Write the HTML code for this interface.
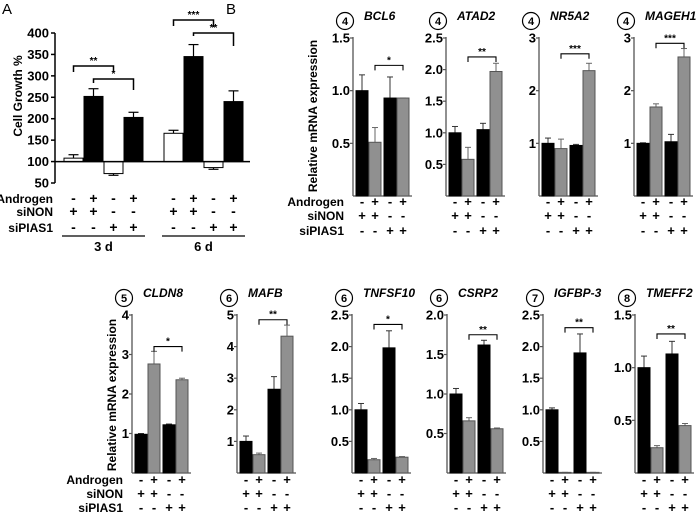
<!DOCTYPE html>
<html><head><meta charset="utf-8"><style>
body{margin:0;background:#fff}
svg{display:block;font-family:"Liberation Sans",Arial,sans-serif;font-weight:bold}
</style></head><body>
<svg id="fig" width="697" height="515" viewBox="0 0 697 515" xmlns="http://www.w3.org/2000/svg">
<text x="2" y="14" font-size="15" font-weight="normal">A</text>
<text x="226" y="14" font-size="15" font-weight="normal">B</text>
<text transform="translate(22,96) rotate(-90)" text-anchor="middle" font-size="12">Cell Growth %</text>
<text transform="translate(317,116) rotate(-90)" text-anchor="middle" font-size="12">Relative mRNA expression</text>
<text transform="translate(116,395) rotate(-90)" text-anchor="middle" font-size="12">Relative mRNA expression</text>
</svg>
<script>
// ---------- Panel A data ----------
const aGroups = ["3 d", "6 d"];
const aValues = [[108, 252, 72, 203], [166, 345, 86, 240]];
const aErrors = [[116, 270, 68, 215], [173, 373, 82, 265]];
const aTicks = [50, 100, 150, 200, 250, 300, 350, 400];
const aAndrogen = ["-", "+", "-", "+"];
const aSiNON = ["+", "+", "-", "-"];
const aSiPIAS1 = ["-", "-", "+", "+"];
// ---------- Panel B data ----------
const bGenes = ["BCL6","ATAD2","NR5A2","MAGEH1","CLDN8","MAFB","TNFSF10","CSRP2","IGFBP-3","TMEFF2"];
const bNumbers = ["4","4","4","4","5","6","6","6","7","8"];
const bMax = [1.5,2.5,3,3,4,5,2.5,2.0,2.5,1.5];
const bTicks = [[0.5,1.0,1.5],[0.5,1.0,1.5,2.0,2.5],[1,2,3],[1,2,3],[1,2,3,4],[1,2,3,4,5],[0.5,1.0,1.5,2.0,2.5],[0.5,1.0,1.5,2.0],[0.5,1.0,1.5,2.0,2.5],[0.5,1.0,1.5]];
const bTickLabels = [["0.5","1.0","1.5"],["0.5","1.0","1.5","2.0","2.5"],["1","2","3"],["1","2","3"],["1","2","3","4"],["1","2","3","4","5"],["0.5","1.0","1.5","2.0","2.5"],["0.5","1.0","1.5","2.0"],["0.5","1.0","1.5","2.0","2.5"],["0.5","1.0","1.5"]];
const bValues = [[1.0,0.51,0.93,0.93],[1.0,0.58,1.05,1.97],[1.0,0.9,0.96,2.38],[1.0,1.69,1.03,2.64],[0.98,2.76,1.22,2.36],[1.0,0.58,2.65,4.33],[1.0,0.21,1.98,0.25],[1.0,0.66,1.62,0.56],[1.0,0.01,1.9,0.01],[1.0,0.24,1.13,0.45]];
const bErrors = [[1.15,0.65,1.13,0.93],[1.1,0.77,1.15,2.1],[1.1,1.08,0.98,2.52],[1.01,1.75,1.17,2.8],[1.0,3.08,1.24,2.4],[1.17,0.63,3.05,4.68],[1.1,0.23,2.25,0.26],[1.07,0.7,1.68,0.57],[1.03,0.01,2.2,0.01],[1.11,0.26,1.25,0.47]];
const bSig = ["*","**","***","***","*","**","*","**","**","**"];
const bSigLevel = [1.24,2.2,2.7,2.9,3.2,4.85,2.35,1.75,2.3,1.32];

const svg = document.getElementById('fig');
const NS = "http://www.w3.org/2000/svg";
function mk(tag, attrs, parent){const e=document.createElementNS(NS,tag);for(const k in attrs)e.setAttribute(k,attrs[k]);(parent||svg).appendChild(e);return e;}
function txt(x,y,s,size,anchor,parent,extra){const t=mk('text',Object.assign({x:x,y:y,'font-size':size,'text-anchor':anchor||'start'},extra||{}),parent);t.textContent=s;return t;}

// ---------- Panel A ----------
const aAxisX=55, aTop=33, aBot=183, aMin=50, aMaxV=400;
const ay = v => aBot - (v-aMin)/(aMaxV-aMin)*(aBot-aTop);
const aStarts=[64,164], aPitch=20, aW=19;
const ax = (g,i) => aStarts[g] + i*aPitch;
const gA = mk('g',{});


mk('line',{x1:aAxisX,y1:aTop,x2:aAxisX,y2:aBot,stroke:'#000','stroke-width':1.5},gA);
aTicks.forEach(t=>{
  mk('line',{x1:aAxisX-4,y1:ay(t),x2:aAxisX,y2:ay(t),stroke:'#000','stroke-width':1.5},gA);
  const l=txt(aAxisX-6,ay(t)+4.5,String(t),13,'end',gA);
  
  
});
aGroups.forEach((g,gi)=>{
  aValues[gi].forEach((v,i)=>{
    const x=ax(gi,i), top=Math.min(ay(v),ay(100)), h=Math.abs(ay(v)-ay(100));
    const fill = (i%2===1)?'#000':'#fff';
    const e=ay(aErrors[gi][i]);
    mk('line',{x1:x+aW/2,y1:ay(v),x2:x+aW/2,y2:e,stroke:'#000','stroke-width':1.2},gA);
    mk('line',{x1:x+aW/2-5,y1:e,x2:x+aW/2+5,y2:e,stroke:'#000','stroke-width':1.2},gA);
    const r=mk('rect',{x:x,y:top,width:aW,height:h,fill:fill,stroke:'#000','stroke-width':1},gA);
    
    
  });
  const cx = ax(gi,0)+aPitch*1.5+aW/2;
  const ctrl=[aAndrogen,aSiNON,aSiPIAS1];
  ctrl.forEach((row,ri)=>row.forEach((s,i)=>{
    txt(ax(gi,i)+aW/2,[203,216,232][ri],s,14,'middle',gA);
  }));
  mk('line',{x1:ax(gi,0)-2,y1:236,x2:ax(gi,3)+aW+2,y2:236,stroke:'#000','stroke-width':1.3},gA);
  const gl=txt(cx,251,g,13,'middle',gA);
  
  
});
mk('line',{x1:aAxisX,y1:ay(100),x2:250,y2:ay(100),stroke:'#000','stroke-width':1.5},gA);
['Androgen','siNON','siPIAS1'].forEach((s,ri)=>{
  const l=txt(53,[203,216,232][ri],s,12,'end',gA);
  
  
});
function bracketA(x1,x2,y,d1,d2,stars){
  mk('path',{d:`M${x1},${y+d1} V${y} H${x2} V${y+d2}`,fill:'none',stroke:'#000','stroke-width':1.5},gA);
  txt((x1+x2)/2,y-2,stars,10,'middle',gA);
}
bracketA(ax(0,0)+aW/2,ax(0,2)+aW/2,66,6,6,'**');
bracketA(ax(0,1)+aW/2,ax(0,3)+aW/2,79,4,11,'*');
bracketA(ax(1,0)+aW/2,ax(1,2)+aW/2,20,6,7,'***');
bracketA(ax(1,1)+aW/2,ax(1,3)+aW/2,33,3,13,'**');

// ---------- Panel B ----------
const bAxisX=[353,446,539,634,132,237,352,447,543,635];
const bTopY=[38,38,38,38,315,315,315,315,315,315];
const bBotY=[196,196,196,196,473,473,473,473,473,473];
const bOff=[3,16,31,44], bW=12;
bGenes.forEach((gene,k)=>{
  const X=bAxisX[k], T=bTopY[k], B=bBotY[k];
  const y = v => B - v/bMax[k]*(B-T);
  const bx = i => X + bOff[i];
  const g=mk('g',{});
  
  
  mk('circle',{cx:X-8,cy:T-17,r:8.5,fill:'#fff',stroke:'#000','stroke-width':1.2},g);
  txt(X-8,T-13,bNumbers[k],11,'middle',g);
  const tt=txt(X+11,T-18,gene,12,'start',g,{'font-style':'italic'});
  
  
  mk('line',{x1:X,y1:T-1,x2:X,y2:B,stroke:'#555','stroke-width':1.3},g);
  mk('line',{x1:X,y1:B,x2:X+59,y2:B,stroke:'#555','stroke-width':1.3},g);
  bTicks[k].forEach((t,ti)=>{
    mk('line',{x1:X-3,y1:y(t),x2:X,y2:y(t),stroke:'#555','stroke-width':1.2},g);
    const l=txt(X-3,y(t)+4.5,bTickLabels[k][ti],13,'end',g);
    
    
  });
  bValues[k].forEach((v,i)=>{
    const gray=(i%2===1);
    const e=y(bErrors[k][i]);
    mk('line',{x1:bx(i)+bW/2,y1:y(v),x2:bx(i)+bW/2,y2:e,stroke:gray?'#666':'#333','stroke-width':1},g);
    mk('line',{x1:bx(i)+bW/2-3,y1:e,x2:bx(i)+bW/2+3,y2:e,stroke:gray?'#666':'#333','stroke-width':1},g);
    const r=mk('rect',{x:bx(i),y:y(v),width:bW,height:Math.max(0.8,B-y(v)),fill:gray?'#909090':'#000',stroke:gray?'#555':'#000','stroke-width':1},g);
    
    
  });
  const sy=y(bSigLevel[k]), x1=bx(1)+bW/2, x2=bx(3)+bW/2;
  mk('path',{d:`M${x1},${sy+5} V${sy} H${x2} V${sy+5}`,fill:'none',stroke:'#000','stroke-width':1.1},g);
  txt((x1+x2)/2,sy-2,bSig[k],10,'middle',g);
  const rowsY = k<4?[206,220,235]:[484,498,512];
  [aAndrogen,aSiNON,aSiPIAS1].forEach((row,ri)=>row.forEach((s,i)=>{
    txt(bx(i)+bW/2,rowsY[ri],s,13,'middle',g);
  }));
  if(k===0||k===4){
    ['Androgen','siNON','siPIAS1'].forEach((s,ri)=>{
      const l=txt(X-9,rowsY[ri],s,12,'end',g);
      
      
    });
  }
});
</script>
</body></html>
